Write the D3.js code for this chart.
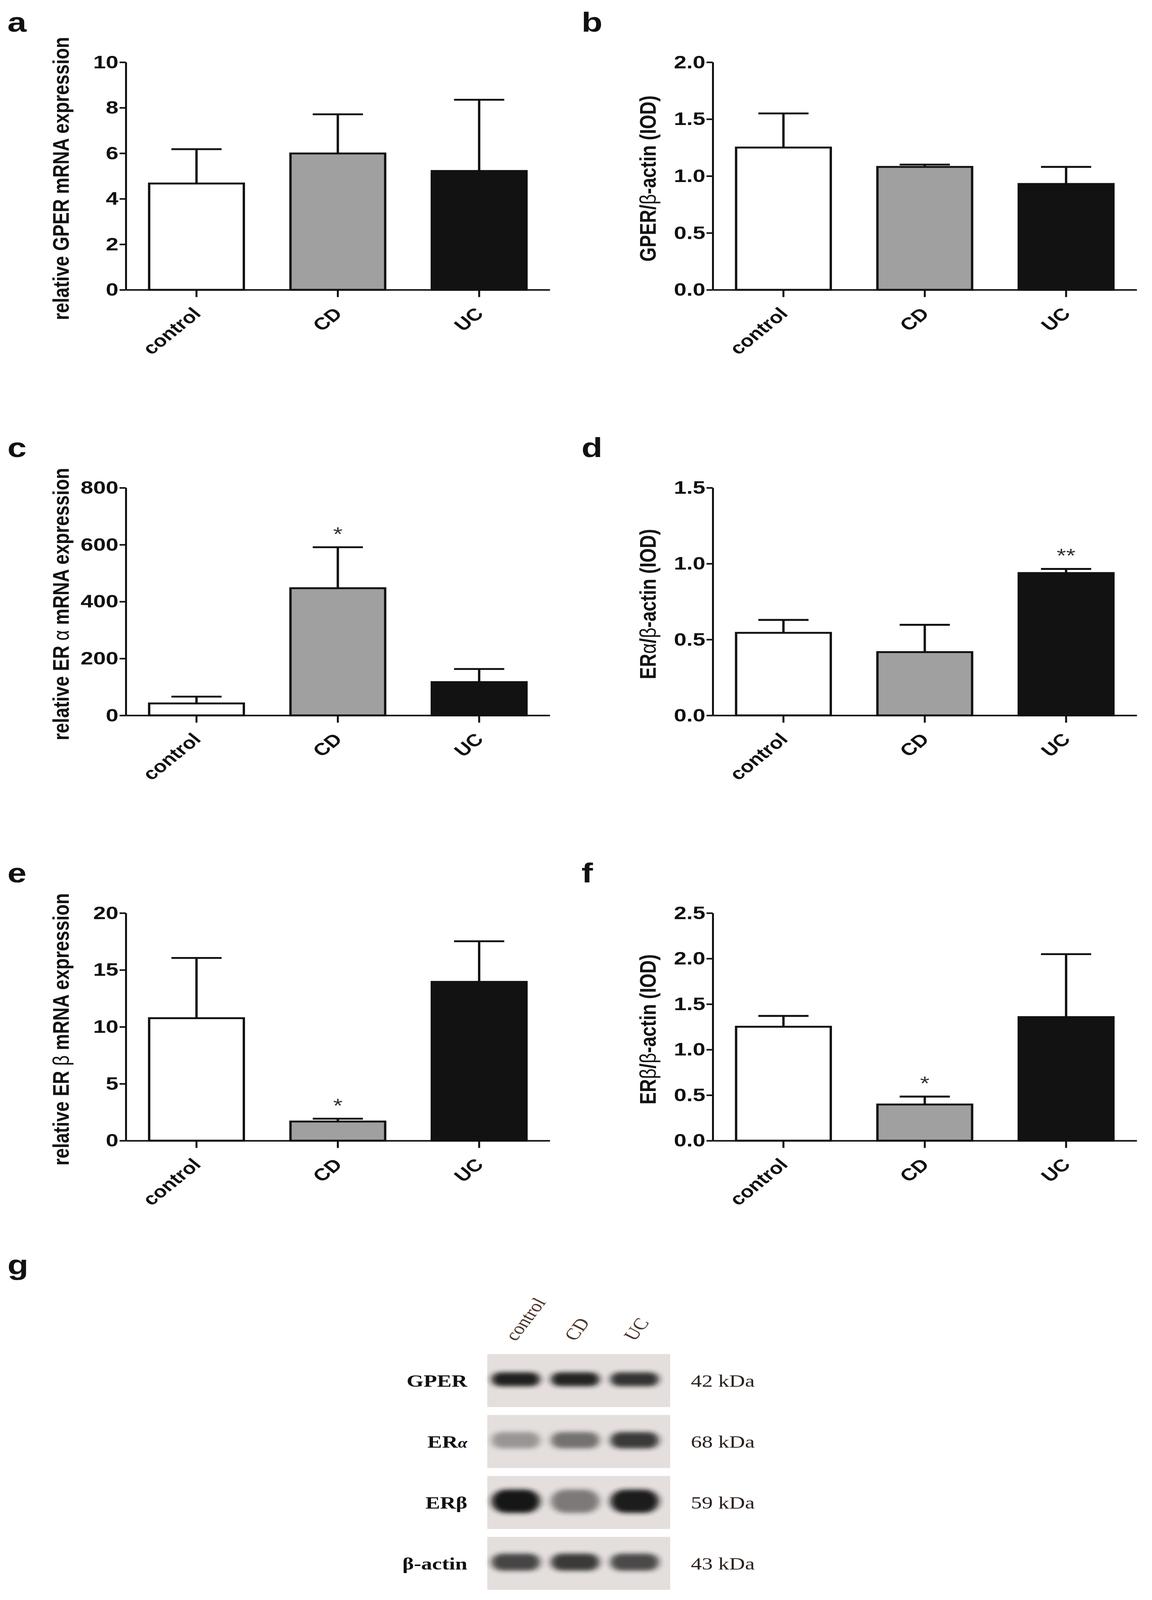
<!DOCTYPE html>
<html>
<head>
<meta charset="utf-8">
<script src="https://cdn.jsdelivr.net/npm/d3@7"></script>
<style>
  html, body { margin: 0; padding: 0; background: #fff; overflow: hidden; }
</style>
</head>
<body>
<div class="chart"></div>
<script>
// figure is laid out in a 2948 x 5068 frame; the svg is fitted to the window
var svgWidth = 2948;
var svgHeight = 5068;

var sans = "'Liberation Sans', Arial, sans-serif";
var serif = "'Liberation Serif', 'Times New Roman', serif";

// groups shared by every bar panel
var groups = ["control", "CD", "UC"];
var groupFill = ["#ffffff", "#a0a0a0", "#121212"];

// a: relative GPER mRNA
var gperMrnaMean = [4.67, 5.99, 5.22];
var gperMrnaSem = [1.51, 1.72, 3.13];
var gperMrnaStars = ["", "", ""];

// b: GPER / beta-actin
var gperIodMean = [1.25, 1.08, 0.93];
var gperIodSem = [0.30, 0.02, 0.15];
var gperIodStars = ["", "", ""];

// c: relative ERalpha mRNA
var eraMrnaMean = [42, 447, 117];
var eraMrnaSem = [24, 144, 46];
var eraMrnaStars = ["", "*", ""];

// d: ERalpha / beta-actin
var eraIodMean = [0.544, 0.417, 0.938];
var eraIodSem = [0.085, 0.180, 0.027];
var eraIodStars = ["", "", "**"];

// e: relative ERbeta mRNA
var erbMrnaMean = [10.76, 1.68, 13.95];
var erbMrnaSem = [5.29, 0.25, 3.57];
var erbMrnaStars = ["", "*", ""];

// f: ERbeta / beta-actin
var erbIodMean = [1.251, 0.397, 1.357];
var erbIodSem = [0.119, 0.087, 0.691];
var erbIodStars = ["", "*", ""];

// y axis titles, greek parts drawn thin
var titleA = [["relative GPER mRNA expression", false]];
var titleB = [["GPER/", false], ["\u03b2", true], ["-actin (IOD)", false]];
var titleC = [["relative ER ", false], ["\u03b1", true], [" mRNA expression", false]];
var titleD = [["ER", false], ["\u03b1", true], ["/", false], ["\u03b2", true], ["-actin (IOD)", false]];
var titleE = [["relative ER ", false], ["\u03b2", true], [" mRNA expression", false]];
var titleF = [["ER", false], ["\u03b2", true], ["/", false], ["\u03b2", true], ["-actin (IOD)", false]];

// g: western blot
var proteins = ["GPER", "ER\u03b1", "ER\u03b2", "\u03b2-actin"];
var proteinKda = ["42 kDa", "68 kDa", "59 kDa", "43 kDa"];
var bandDensity = [
  [0.95, 0.93, 0.85],
  [0.36, 0.54, 0.82],
  [1.00, 0.50, 0.97],
  [0.76, 0.82, 0.74]
];

var panels = [
  {id: "a", mean: gperMrnaMean, sem: gperMrnaSem, stars: gperMrnaStars, max: 10, step: 2, fmt: "d", title: titleA, col: 0, row: 0},
  {id: "b", mean: gperIodMean, sem: gperIodSem, stars: gperIodStars, max: 2, step: 0.5, fmt: ".1f", title: titleB, col: 1, row: 0},
  {id: "c", mean: eraMrnaMean, sem: eraMrnaSem, stars: eraMrnaStars, max: 800, step: 200, fmt: "d", title: titleC, col: 0, row: 1},
  {id: "d", mean: eraIodMean, sem: eraIodSem, stars: eraIodStars, max: 1.5, step: 0.5, fmt: ".1f", title: titleD, col: 1, row: 1},
  {id: "e", mean: erbMrnaMean, sem: erbMrnaSem, stars: erbMrnaStars, max: 20, step: 5, fmt: "d", title: titleE, col: 0, row: 2},
  {id: "f", mean: erbIodMean, sem: erbIodSem, stars: erbIodStars, max: 2.5, step: 0.5, fmt: ".1f", title: titleF, col: 1, row: 2}
];

// layout of the 3x2 grid
var colAxisX = [322, 1824];
var letterX = [19, 1488];
var rowTop = [197, 1545, 2892];
var plotWidth = 1085;
var plotHeight = 721;

// the window is shorter than the figure, so stretch the frame onto it
var viewW = window.innerWidth || svgWidth;
var viewH = Math.min(window.innerHeight || svgHeight, svgHeight);

var svg = d3
  .select(".chart")
  .append("svg")
  .attr("width", viewW)
  .attr("height", viewH)
  .attr("viewBox", `0 0 ${svgWidth} ${svgHeight}`)
  .attr("preserveAspectRatio", "none")
  .style("display", "block");

svg.append("rect")
  .attr("width", svgWidth)
  .attr("height", svgHeight)
  .attr("fill", "#fff");

function drawPanel(p) {
  var left = colAxisX[p.col];
  var top = rowTop[p.row];

  var chartGroup = svg.append("g")
    .attr("transform", `translate(${left}, ${top})`);

  var x = d3.scaleBand()
    .domain(groups)
    .range([0, plotWidth])
    .paddingInner(0.33)
    .paddingOuter(0.165);

  var y = d3.scaleLinear()
    .domain([0, p.max])
    .range([plotHeight, 0]);

  var rows = groups.map((g, i) => ({group: g, mean: p.mean[i], sem: p.sem[i], star: p.stars[i], fill: groupFill[i]}));

  // bars
  chartGroup.selectAll("rect.bar")
    .data(rows)
    .enter()
    .append("rect")
    .attr("class", "bar")
    .attr("x", d => x(d.group))
    .attr("y", d => y(d.mean))
    .attr("width", x.bandwidth())
    .attr("height", d => y(0) - y(d.mean))
    .attr("fill", d => d.fill)
    .attr("stroke", "#111")
    .attr("stroke-width", 6);

  // upper error bars only
  var capHalf = x.bandwidth() * 0.265;
  var err = chartGroup.selectAll("g.err")
    .data(rows)
    .enter()
    .append("g")
    .attr("class", "err")
    .attr("stroke", "#111")
    .attr("stroke-width", 6);

  err.append("line")
    .attr("x1", d => x(d.group) + x.bandwidth() / 2)
    .attr("x2", d => x(d.group) + x.bandwidth() / 2)
    .attr("y1", d => y(d.mean))
    .attr("y2", d => y(d.mean + d.sem));

  err.append("line")
    .attr("x1", d => x(d.group) + x.bandwidth() / 2 - capHalf)
    .attr("x2", d => x(d.group) + x.bandwidth() / 2 + capHalf)
    .attr("y1", d => y(d.mean + d.sem))
    .attr("y2", d => y(d.mean + d.sem));

  // significance marks
  chartGroup.selectAll("text.star")
    .data(rows.filter(d => d.star))
    .enter()
    .append("text")
    .attr("class", "star")
    .attr("x", d => x(d.group) + x.bandwidth() / 2)
    .attr("y", d => y(d.mean + d.sem) - 20)
    .attr("text-anchor", "middle")
    .attr("font-family", sans)
    .attr("font-size", 62)
    .attr("fill", "#333")
    .text(d => d.star);

  // axes
  var leftAxis = d3.axisLeft(y)
    .tickValues(d3.range(0, p.max + p.step / 2, p.step))
    .tickFormat(d3.format(p.fmt))
    .tickSize(16)
    .tickSizeOuter(0)
    .tickPadding(3);

  var bottomAxis = d3.axisBottom(x)
    .tickSize(23)
    .tickSizeOuter(0);

  var yAxis = chartGroup.append("g")
    .call(leftAxis);

  var xAxis = chartGroup.append("g")
    .attr("transform", `translate(0, ${plotHeight})`)
    .call(bottomAxis);

  [yAxis, xAxis].forEach(function(ax) {
    ax.attr("font-family", sans)
      .attr("font-size", 58)
      .attr("font-weight", "bold");
    ax.select(".domain").attr("stroke", "#111").attr("stroke-width", 5);
    ax.selectAll(".tick line").attr("stroke", "#111").attr("stroke-width", 5);
    ax.selectAll(".tick text").attr("fill", "#111");
  });

  xAxis.selectAll(".tick text")
    .attr("x", 0)
    .attr("y", 0)
    .attr("dy", 0)
    .attr("font-size", 54)
    .attr("text-anchor", "end")
    .attr("transform", "translate(14, 79) rotate(-45)");

  // y axis title
  var title = chartGroup.append("text")
    .attr("transform", "rotate(-90)")
    .attr("x", -plotHeight / 2 - 8)
    .attr("y", -146)
    .attr("text-anchor", "middle")
    .attr("font-family", sans)
    .attr("font-size", 58)
    .attr("font-weight", "bold")
    .attr("fill", "#111");

  p.title.forEach(function(part) {
    title.append("tspan")
      .attr("font-weight", part[1] ? "normal" : "bold")
      .text(part[0]);
  });

  // panel letter
  svg.append("text")
    .attr("x", letterX[p.col])
    .attr("y", top - 97)
    .attr("font-family", sans)
    .attr("font-size", 88)
    .attr("font-weight", "bold")
    .attr("fill", "#111")
    .text(p.id);
}

panels.forEach(drawPanel);

// ---- panel g: western blot ----
var blotLeft = 1247;
var blotWidth = 468;

svg.append("text")
  .attr("x", 19)
  .attr("y", 4036)
  .attr("font-family", sans)
  .attr("font-size", 88)
  .attr("font-weight", "bold")
  .attr("fill", "#111")
  .text("g");

var defs = svg.append("defs");
defs.append("filter")
  .attr("id", "bandBlur")
  .attr("x", "-50%").attr("y", "-100%")
  .attr("width", "200%").attr("height", "300%")
  .append("feGaussianBlur")
  .attr("stdDeviation", "9 7");

var rowScale = d3.scaleBand()
  .domain(proteins)
  .range([4289, 5036])
  .paddingInner(0.13);

var laneScale = d3.scalePoint()
  .domain(groups)
  .range([blotLeft + 73, blotLeft + 377]);

var bandHeight = [44, 52, 74, 54];

var blotRows = svg.selectAll("g.blot")
  .data(proteins)
  .enter()
  .append("g")
  .attr("class", "blot")
  .attr("transform", d => `translate(0, ${rowScale(d)})`);

blotRows.append("rect")
  .attr("x", blotLeft)
  .attr("width", blotWidth)
  .attr("height", rowScale.bandwidth())
  .attr("fill", "#e4dfdd");

blotRows.each(function(protein, r) {
  var row = d3.select(this);
  var h = bandHeight[r];
  row.selectAll("rect.band")
    .data(groups)
    .enter()
    .append("rect")
    .attr("class", "band")
    .attr("x", g => laneScale(g) - 62)
    .attr("y", rowScale.bandwidth() / 2 - h / 2 - 4)
    .attr("width", 124)
    .attr("height", h)
    .attr("rx", h / 2)
    .attr("fill", "#151313")
    .attr("opacity", (g, i) => bandDensity[r][i])
    .attr("filter", "url(#bandBlur)");

  // protein name on the left
  var name = row.append("text")
    .attr("x", 1196)
    .attr("y", rowScale.bandwidth() / 2 + 20)
    .attr("text-anchor", "end")
    .attr("font-family", serif)
    .attr("font-size", 56)
    .attr("font-weight", "bold")
    .attr("fill", "#111");

  if (protein === "ER\u03b1") {
    name.append("tspan").text("ER");
    name.append("tspan").attr("font-style", "italic").attr("font-size", 44).text("\u03b1");
  }
  else {
    name.text(protein);
  }

  // molecular weight on the right
  row.append("text")
    .attr("x", 1768)
    .attr("y", rowScale.bandwidth() / 2 + 20)
    .attr("font-family", serif)
    .attr("font-size", 56)
    .attr("fill", "#2a201c")
    .text(proteinKda[r]);
});

// lane labels above the blot
svg.selectAll("text.lane")
  .data(groups)
  .enter()
  .append("text")
  .attr("class", "lane")
  .attr("transform", d => `translate(${laneScale(d)}, 4250) rotate(-58)`)
  .attr("font-family", serif)
  .attr("font-size", 52)
  .attr("fill", "#4a3228")
  .text(d => d);
</script>
</body>
</html>
